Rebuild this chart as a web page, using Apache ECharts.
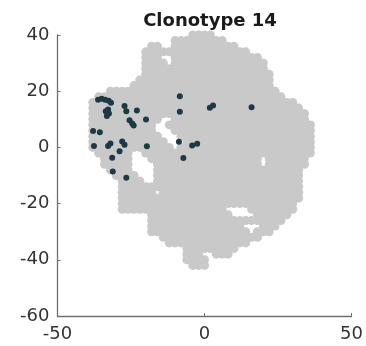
<!DOCTYPE html>
<html>
<head>
<meta charset="utf-8">
<script src="https://cdn.jsdelivr.net/npm/echarts@6/dist/echarts.min.js"></script>
<style>
html,body{margin:0;padding:0;background:#fff;}
#chart{width:366px;height:346px;}
</style>
</head>
<body>
<div id="chart"></div>
<script>
// Axis ticks
const xTicks = [-50, 0, 50];
const yTicks = [-60, -40, -20, 0, 20, 40];

// Columns: x = -40, -38, ..., 38 (40 columns, spaces are only for readability)
const cloudX0 = -40, cloudStep = 2;
const cloudRowsY = [40,38,36,34,32,30,28,26,24,22,20,18,16,14,12,10,8,6,4,2,0,-2,-4,-6,-8,-10,-12,-14,-16,-18,-20,-22,-24,-26,-28,-30,-32,-34,-36,-38,-40,-42];
const cloudMask = [
  ".......... ........## ##........ ..........", // 40
  ".......... .....##### ####...... ..........", // 38
  ".......... .##..##### ######.... ..........", // 36
  ".......... ########## ########.. ..........", // 34
  ".......... ###..##### ########## ..........", // 32
  ".......... ####.##### ########## #.........", // 30
  ".......... ########## ########## #.........", // 28
  ".......... ########## ########## ##........", // 26
  ".........# ########## ########## ##........", // 24
  "........## ########## ########## ##........", // 22
  "....###### ########## ########## ###.......", // 20
  "..######## ########## ########## ####......", // 18
  ".######### ########## ########## ######....", // 16
  ".######### ########## ########## #######...", // 14
  ".######### ########## ########## ########..", // 12
  ".######### ###..##### ########## ########..", // 10
  ".######### ##..###### ########## #########.", // 8
  ".######### ##...##### ########## #########.", // 6
  ".######### ###...#### ########## #########.", // 4
  ".######### ####...### ########## #########.", // 2
  ".######### #####.#### ########## #########.", // 0
  "..######.. ########## ########## #########.", // -2
  "...#####.. .######### ########## .#######..", // -4
  "...#####.. ..######## ########## .#######..", // -6
  "....####.. ..######## ########## #######...", // -8
  ".....####. ..######## ########## #######...", // -10
  "......#### ..######## ########## #######...", // -12
  "......#### ########## ########## #######...", // -14
  "......#### ##.####### ########## #######...", // -16
  "......#### ########## ########## #######...", // -18
  "......#### ########## ########## ######....", // -20
  "......#### ########## ####....## ######....", // -22
  ".......... .######### #####....# #####.....", // -24
  ".......... .######### ########## ####......", // -26
  ".......... .######### #######... ###.......", // -28
  ".......... .######### ########.# ##........", // -30
  ".......... ...####### ########## ..........", // -32
  ".......... ....###### ########.. ..........", // -34
  ".......... .......### ######.... ..........", // -36
  ".......... .......### ..###..... ..........", // -38
  ".......... .......### #......... ..........", // -40
  ".......... ........## #......... .........."  // -42
];

// Highlighted cells of clonotype 14
const cloneX = [-36.2,-35.0,-33.8,-32.6,-31.8,-33.6,-32.8,-32.5,-33.2,-27.2,-26.6,-23.0,-25.5,-24.6,-24.1,-19.9,-8.4,-8.4,1.8,2.9,16.0,-37.9,-35.6,-37.6,-32.8,-32.0,-28.0,-27.2,-28.9,-31.4,-19.6,-8.7,-4.2,-2.5,-7.2,-31.2,-26.6];
const cloneY = [17.0,17.3,17.0,16.6,15.9,12.9,13.5,12.1,11.2,14.7,12.9,13.1,9.7,8.5,7.8,9.9,18.2,12.7,14.1,14.9,14.3,5.8,5.4,0.5,0.5,1.4,2.1,0.9,-1.4,-3.7,0.4,2.0,0.7,1.3,-3.8,-8.6,-10.8];

const cloudData = [];
cloudMask.forEach(function (row, r) {
  const cells = row.replace(/ /g, '');
  for (let i = 0; i < cells.length; i++) {
    if (cells[i] === '#') cloudData.push([cloudX0 + i * cloudStep, cloudRowsY[r]]);
  }
});
const cloneData = cloneX.map(function (x, i) { return [x, cloneY[i]]; });

const chart = echarts.init(document.getElementById('chart'), null, {renderer: 'canvas'});
const axisCommon = {
  axisLine: {show: true, onZero: false, lineStyle: {color: '#6f6f6f', width: 1.3}},
  axisTick: {show: true, inside: true, length: 3, lineStyle: {color: '#6f6f6f'}},
  splitLine: {show: false},
  axisLabel: {color: '#333333', fontFamily: 'DejaVu Sans', fontSize: 18}
};
chart.setOption({
  animation: false,
  backgroundColor: '#ffffff',
  title: {
    text: 'Clonotype 14',
    left: 205, top: 7, textAlign: 'center',
    textStyle: {fontFamily: 'DejaVu Sans', fontWeight: 'bold', fontSize: 18, color: '#1a1a1a'}
  },
  grid: {left: 57.5, right: 12, top: 35, bottom: 30, containLabel: false},
  xAxis: Object.assign({}, axisCommon, {
    type: 'value', min: xTicks[0], max: xTicks[xTicks.length - 1], interval: 50,
    axisLabel: Object.assign({}, axisCommon.axisLabel, {margin: 9})
  }),
  yAxis: Object.assign({}, axisCommon, {
    type: 'value', min: yTicks[0], max: yTicks[yTicks.length - 1], interval: 20,
    axisLabel: Object.assign({}, axisCommon.axisLabel, {margin: 8})
  }),
  series: [
    {type: 'scatter', symbol: 'circle', data: cloudData, symbolSize: 9, itemStyle: {color: '#c9c9c9', opacity: 1, borderWidth: 0}, silent: true, z: 1},
    {type: 'scatter', symbol: 'circle', data: cloneData, symbolSize: 6, itemStyle: {color: '#1d3946', opacity: 1, borderWidth: 0}, silent: true, z: 2}
  ]
});
</script>
</body>
</html>
